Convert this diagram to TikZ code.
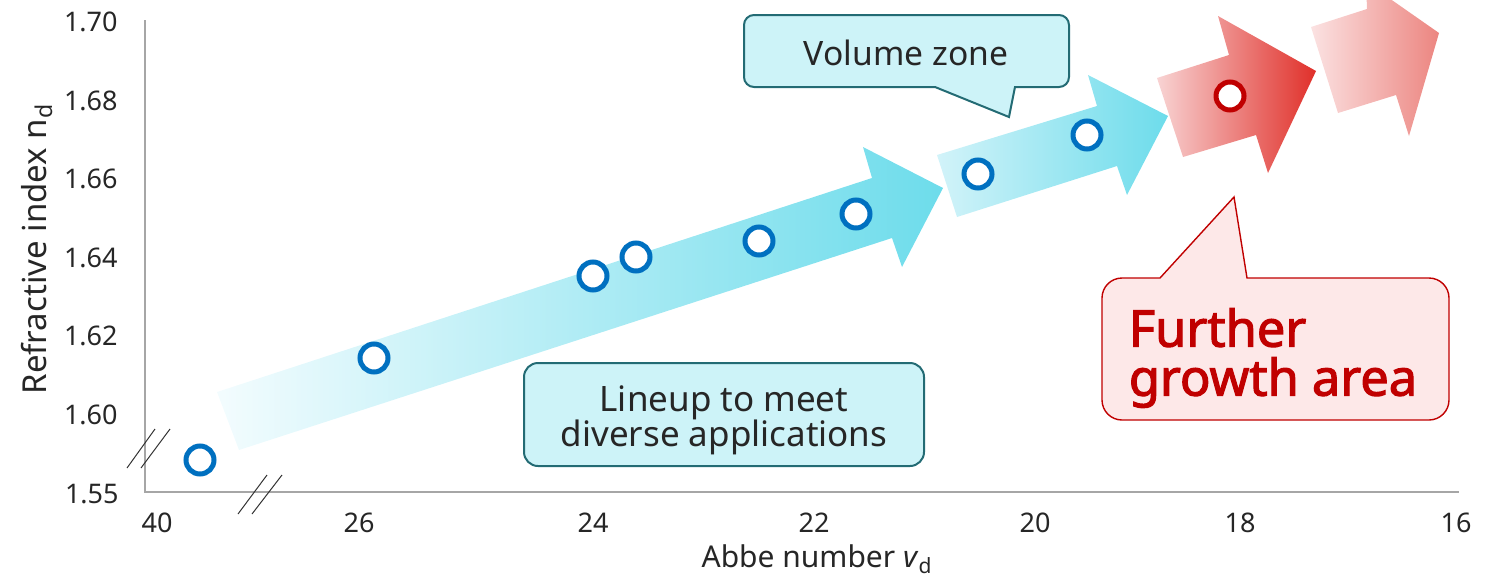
\documentclass[tikz,border=0pt]{standalone}
\usepackage{fontspec}
\setmainfont{Noto Sans}
\newfontfamily\growthfont{Noto Sans}[FakeBold=2.2]
\definecolor{axisgray}{HTML}{A6A6A6}
\definecolor{txtcol}{HTML}{262626}
\definecolor{ringblue}{HTML}{0070C0}
\definecolor{ringred}{HTML}{C00000}
\definecolor{tealline}{HTML}{236B74}
\definecolor{boxcyan}{HTML}{CDF3F8}
\definecolor{boxpink}{HTML}{FDE8E8}
\definecolor{cyanhead}{HTML}{6DDCEB}
\definecolor{cyantailA}{HTML}{F3FCFE}
\definecolor{cyantailB}{HTML}{D2F3F9}
\definecolor{redheadA}{HTML}{E0302A}
\definecolor{redtailA}{HTML}{F8D3D3}
\definecolor{redheadB}{HTML}{EC8580}
\definecolor{redtailB}{HTML}{FBE2E2}
\definecolor{breakcol}{HTML}{333333}
\begin{document}
\begin{tikzpicture}[x=0.5pt,y=-0.5pt,
  axisline/.style={draw=axisgray,line width=1pt},
  breakmark/.style={draw=breakcol,line width=0.5pt},
  ticklab/.style={text=txtcol,font=\fontsize{13.5}{16}\selectfont,inner sep=0pt},
  axtitle/.style={text=txtcol,font=\fontsize{15}{17}\selectfont,inner sep=0pt},
  ring/.style={circle,draw=ringblue,line width=2.5pt,fill=white,minimum size=14pt,inner sep=0pt},
  redring/.style={ring,draw=ringred},
  bluecallout/.style={fill=boxcyan,draw=tealline,line width=1pt},
  redcallout/.style={fill=boxpink,draw=ringred,line width=0.7pt},
  calltext/.style={text=txtcol,font=\fontsize{16.8}{17.5}\selectfont,inner sep=0pt,align=center}]
\useasboundingbox (0,0) rectangle (1499,584);
\begin{scope}
\clip (0,0) rectangle (1499,584);
% arrows
\shade[left color=cyantailA,right color=cyanhead]
  (217,392) -- (872,178) -- (863,147) -- (943,188) -- (902,267) -- (892,238) -- (239,450) -- cycle;
\shade[left color=cyantailB,right color=cyanhead]
  (937,155) -- (1097,106) -- (1088,75) -- (1168,116) -- (1127,195) -- (1117,166) -- (957,217) -- cycle;
\shade[left color=redtailA,right color=redheadA]
  (1157,78) -- (1229,55) -- (1218,16) -- (1316,71) -- (1268,173) -- (1256,135) -- (1183,157) -- cycle;
\shade[left color=redtailB,right color=redheadB]
  (1311,27) -- (1367,9) -- (1366,-18) -- (1439,33) -- (1409,136) -- (1396,95) -- (1338,113) -- cycle;
\end{scope}
% axes
\coordinate (ytop) at (145,20);
\coordinate (orig) at (145,492);
\coordinate (xend) at (1459,492);
\draw[axisline] (ytop) -- (orig) -- (xend);
% break marks
\coordinate (yb1a) at (127,468); \coordinate (yb1b) at (155,429);
\coordinate (yb2a) at (141,468); \coordinate (yb2b) at (170,429);
\coordinate (xb1a) at (238,514); \coordinate (xb1b) at (267,475);
\coordinate (xb2a) at (252,514); \coordinate (xb2b) at (282,475);
\draw[breakmark] (yb1a) -- (yb1b);
\draw[breakmark] (yb2a) -- (yb2b);
\draw[breakmark] (xb1a) -- (xb1b);
\draw[breakmark] (xb2a) -- (xb2b);
% y tick labels
\node[ticklab,anchor=east] (y170) at (118,22) {1.70};
\node[ticklab,anchor=east] (y168) at (118,101) {1.68};
\node[ticklab,anchor=east] (y166) at (118,179) {1.66};
\node[ticklab,anchor=east] (y164) at (118,258) {1.64};
\node[ticklab,anchor=east] (y162) at (118,336) {1.62};
\node[ticklab,anchor=east] (y160) at (118,415) {1.60};
\node[ticklab,anchor=east] (y155) at (119,494) {1.55};
% x tick labels
\node[ticklab] (x40) at (157,523) {40};
\node[ticklab] (x26) at (359,523) {26};
\node[ticklab] (x24) at (593,523) {24};
\node[ticklab] (x22) at (814,523) {22};
\node[ticklab] (x20) at (1035,523) {20};
\node[ticklab] (x18) at (1240,523) {18};
\node[ticklab] (x16) at (1456,523) {16};
% axis titles
\node[axtitle,rotate=90,font=\fontsize{16.5}{18}\selectfont] (ytitle) at (37,249) {Refractive index n\textsubscript{d}};
\node[axtitle] (xtitle) at (817,559) {Abbe number \textit{v}\textsubscript{d}};
% data points
\node[ring] (p1) at (200,460) {};
\node[ring] (p2) at (374,358) {};
\node[ring] (p3) at (593,276) {};
\node[ring] (p4) at (636,257) {};
\node[ring] (p5) at (759,241) {};
\node[ring] (p6) at (856,214) {};
\node[ring] (p7) at (978,174) {};
\node[ring] (p8) at (1087,135) {};
\node[redring] (p9) at (1230,96) {};
% callout: volume zone
\filldraw[bluecallout] (754,15) -- (1059,15) arc[start angle=270,end angle=360,radius=10]
  -- (1069,77) arc[start angle=0,end angle=90,radius=10]
  -- (1015,87) -- (1009,117) -- (935,87)
  -- (754,87) arc[start angle=90,end angle=180,radius=10]
  -- (744,25) arc[start angle=180,end angle=270,radius=10] -- cycle;
\node[calltext] (vz) at (906,53) {Volume zone};
% callout: lineup
\node[bluecallout,rounded corners=7pt,minimum width=200pt,minimum height=51.5pt,inner sep=0pt] (lineupbox) at (724,414.5) {};
\node[calltext,font=\fontsize{17.5}{17.5}\selectfont] (lineup) at (724,420) {Lineup to meet\\diverse applications};
% callout: further growth
\filldraw[redcallout] (1122,278) -- (1160,278) -- (1234,197) -- (1247,278)
  -- (1429,278) arc[start angle=270,end angle=360,radius=20]
  -- (1449,400) arc[start angle=0,end angle=90,radius=20]
  -- (1122,420) arc[start angle=90,end angle=180,radius=20]
  -- (1102,298) arc[start angle=180,end angle=270,radius=20] -- cycle;
\node[text=ringred,font=\growthfont\fontsize{25.3}{24.5}\selectfont,align=left,inner sep=0pt] (growth) at (1273,358) {Further\\growth area};
\end{tikzpicture}
\end{document}
